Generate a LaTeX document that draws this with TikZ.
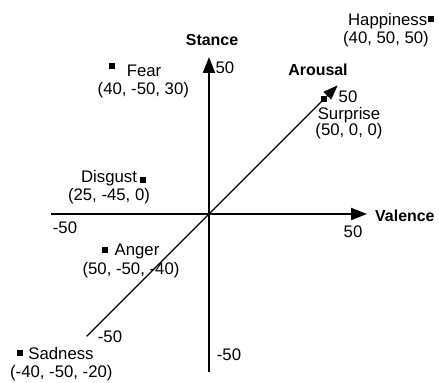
\documentclass[tikz,border=0pt]{standalone}
\usepackage{fontspec}
\setmainfont{Liberation Sans}
\usetikzlibrary{arrows.meta}
\begin{document}
\begin{tikzpicture}[
  axis/.style={line width=1.6pt,-{Triangle[length=0.48cm,width=0.36cm]}},
  diag/.style={line width=1.2pt,-{Triangle[length=0.44cm,width=0.32cm]}},
  sq/.style={fill=black,inner sep=0pt,minimum size=0.18cm},
  lbl/.style={font=\fontsize{14.3}{16}\selectfont,inner sep=0pt},
  axlbl/.style={font=\fontsize{13.6}{16}\selectfont\bfseries,inner sep=0pt}]
\useasboundingbox (-6.27,-5.04) rectangle (6.9,6.42);
% axes
\coordinate (vmin) at (-4.74,0);
\coordinate (vmax) at (4.74,0);
\coordinate (smin) at (0,-4.74);
\coordinate (smax) at (0,4.71);
\coordinate (amin) at (-3.67,-3.67);
\coordinate (amax) at (3.86,3.86);
\draw[axis] (vmin) -- (vmax);
\draw[axis] (smin) -- (smax);
\draw[diag] (amin) -- (amax);
\node[axlbl,anchor=west] (valence) at (4.98,-0.06) {Valence};
\node[axlbl] (stance) at (0.09,5.22) {Stance};
\node[axlbl] (arousal) at (3.27,4.32) {Arousal};
\node[lbl] (v50) at (4.32,-0.54) {50};
\node[lbl] (vm50) at (-4.32,-0.42) {-50};
\node[lbl] (s50) at (0.48,4.38) {50};
\node[lbl] (sm50) at (0.6,-4.23) {-50};
\node[lbl] (a50) at (4.17,3.52) {50};
\node[lbl] (am50) at (-2.97,-3.69) {-50};
% emotions
\node[sq] (happiness) at (6.66,5.85) {};
\node[lbl] (happiness-t) at (5.36,5.79) {Happiness};
\node[lbl] (happiness-v) at (5.31,5.25) {(40, 50, 50)};
\node[sq] (surprise) at (3.45,3.45) {};
\node[lbl] (surprise-t) at (4.2,2.96) {Surprise};
\node[lbl] (surprise-v) at (4.2,2.50) {(50, 0, 0)};
\node[sq] (fear) at (-2.91,4.44) {};
\node[lbl] (fear-t) at (-1.95,4.29) {Fear};
\node[lbl] (fear-v) at (-1.97,3.72) {(40, -50, 30)};
\node[sq] (disgust) at (-1.98,1.02) {};
\node[lbl] (disgust-t) at (-3.0,1.08) {Disgust};
\node[lbl] (disgust-v) at (-3.0,0.54) {(25, -45, 0)};
\node[sq] (anger) at (-3.12,-1.08) {};
\node[lbl] (anger-t) at (-2.16,-1.11) {Anger};
\node[lbl] (anger-v) at (-2.34,-1.68) {(50, -50, -40)};
\node[sq] (sadness) at (-5.67,-4.17) {};
\node[lbl] (sadness-t) at (-4.44,-4.2) {Sadness};
\node[lbl] (sadness-v) at (-4.43,-4.77) {(-40, -50, -20)};
\end{tikzpicture}
\end{document}
